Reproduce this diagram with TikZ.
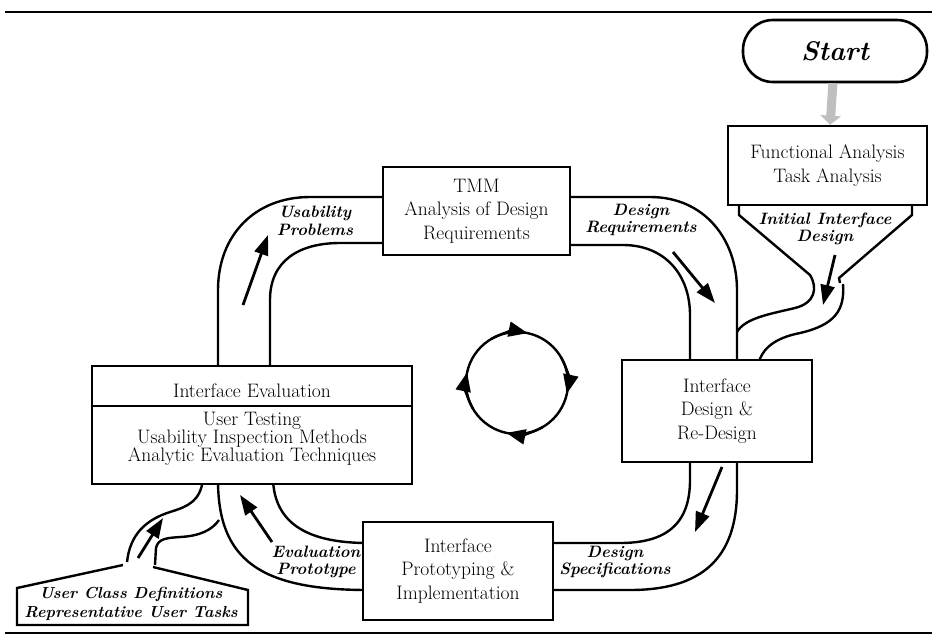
\documentclass[tikz,border=0pt]{standalone}
\usepackage{tikz}
\usetikzlibrary{arrows.meta}

\begin{document}
\begin{tikzpicture}[x=1pt,y=-1pt,
        box/.style={draw,line width=2.6pt,fill=white,inner sep=0pt,align=center,font=\fontsize{19.5}{23.5}\selectfont},
        pipe/.style={line width=2.4pt},
        flow/.style={line width=2.8pt,-{Triangle[length=20pt,width=14pt]}},
        lbl/.style={align=center,inner sep=0pt,font=\bfseries\itshape\fontsize{16.5}{17.5}\selectfont}]
        \useasboundingbox (0,0) rectangle (932,638);

        %rules
        \draw[line width=2.8pt] (5,12) -- (932,12);
        \draw[line width=2.6pt] (5,633) -- (932,633);

        %loop, outer wall
        \draw[pipe] (218,370) -- (218,290) .. controls (218,235) and (255,197) .. (310,197) -- (390,197);
        \draw[pipe] (565,197) -- (650,197) .. controls (705,197) and (737,240) .. (737,290) -- (737,365);
        \draw[pipe] (737,458) -- (737,490) .. controls (737,560) and (700,590) .. (630,590) -- (548,590);
        \draw[pipe] (368,590) .. controls (260,590) and (218,560) .. (218,480);
        %loop, inner wall
        \draw[pipe] (270,370) -- (270,300) .. controls (270,260) and (300,243) .. (340,243) -- (390,243);
        \draw[pipe] (565,245) -- (623,245) .. controls (665,245) and (690,275) .. (690,315) -- (690,365);
        \draw[pipe] (690,458) -- (690,480) .. controls (690,525) and (665,543) .. (620,543) -- (548,543);
        \draw[pipe] (368,543) .. controls (310,543) and (275,525) .. (273,480);

        %funnel
        \draw[pipe] (739,200) -- (739,215) -- (810,275) .. controls (818,288) and (815,303) .. (795,308) .. controls (770,314) and (745,318) .. (737,332);
        \draw[pipe] (912,200) -- (912,215) -- (839,278) -- (840,283);
        \draw[pipe] (843,284) .. controls (845,310) and (835,325) .. (800,333) .. controls (775,338) and (762,348) .. (758,365);

        %user input
        \draw[pipe] (123,565) -- (17,588) -- (17,625) -- (248,625) -- (248,590) -- (153,567);
        \draw[pipe] (127,562) .. controls (130,535) and (145,520) .. (170,512) .. controls (190,506) and (200,500) .. (203,480);
        \draw[pipe] (155,565) -- (156,548) .. controls (158,538) and (168,538) .. (180,537) .. controls (200,536) and (212,530) .. (219,520);

        %boxes
        \node[box,rounded corners=30pt,minimum width=184pt,minimum height=62pt,font=\bfseries\itshape\fontsize{27}{30}\selectfont] (start) at (835,51) {Start};
        \node[box,minimum width=199pt,minimum height=79pt] (func) at (827.5,165.5) {Functional Analysis\\Task Analysis};
        \node[box,minimum width=187pt,minimum height=88pt] (tmm) at (476.5,211) {TMM\\Analysis of Design\\Requirements};
        \node[box,minimum width=190pt,minimum height=102pt] (design) at (717,411) {Interface\\Design \&\\Re-Design};
        \node[box,minimum width=190pt,minimum height=98pt] (proto) at (458,571) {Interface\\Prototyping \&\\Implementation};
        \node[box,minimum width=320pt,minimum height=118pt] (eval) at (252,425) {};
        \node[font=\fontsize{19.5}{22}\selectfont] (evaltitle) at (252,391) {Interface Evaluation};
        \draw[line width=2.4pt] (eval.west |- 0,406) -- (eval.east |- 0,406);
        \node[align=center,font=\fontsize{19.5}{18}\selectfont] (evalmeth) at (252,439) {User Testing\\Usability Inspection Methods\\Analytic Evaluation Techniques};

        \draw[gray!50,line width=9pt,-{Triangle[length=9pt,width=20pt]}] (start) -- (func);

        %labels
        \node[lbl] (usab) at (315,221) {Usability\\Problems};
        \node[lbl] (desreq) at (641,220) {Design\\Requirements};
        \node[lbl] (init) at (825,229) {Initial Interface\\Design};
        \node[lbl] (desspec) at (615,562) {Design\\Specifications};
        \node[lbl] (evproto) at (316,562) {Evaluation\\Prototype};
        \node[lbl,font=\bfseries\itshape\fontsize{16}{18.5}\selectfont] (userin) at (131,604) {User Class Definitions\\Representative User Tasks};

        %flow arrows
        \coordinate (a1) at (243,305); \coordinate (a2) at (268,235);
        \coordinate (b1) at (673,252); \coordinate (b2) at (715,303);
        \coordinate (c1) at (835,255); \coordinate (c2) at (823,305);
        \coordinate (d1) at (722,467); \coordinate (d2) at (695,532);
        \coordinate (e1) at (272,542); \coordinate (e2) at (240,495);
        \coordinate (f1) at (138,558); \coordinate (f2) at (163,518);
        \draw[flow] (a1)--(a2);
        \draw[flow] (b1)--(b2);
        \draw[flow] (c1)--(c2);
        \draw[flow] (d1)--(d2);
        \draw[flow] (e1)--(e2);
        \draw[flow] (f1)--(f2);

        %cycle
        \coordinate (cyc) at (517,383);
        \draw[line width=2.4pt] (cyc) circle (51);
        \foreach \a in {0,90,180,270}
            \draw[line width=2.4pt,-{Triangle[length=19pt,width=15pt]}] (cyc) ++(\a+60:51) arc (\a+60:\a+102:51);
\end{tikzpicture}
\end{document}
